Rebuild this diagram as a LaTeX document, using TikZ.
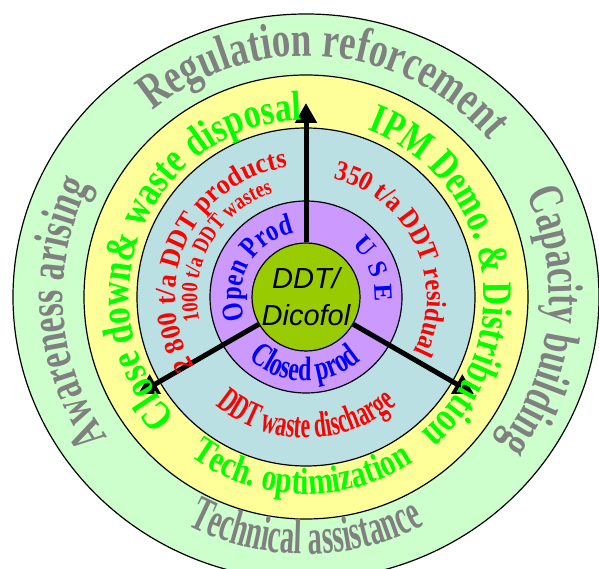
\documentclass[tikz,border=0pt]{standalone}
\usepackage{fontspec}
\setmainfont{Liberation Serif}
\setsansfont{Liberation Sans}
\usetikzlibrary{decorations.text,arrows.meta}
\definecolor{ringgreen}{HTML}{CCFFCC}
\definecolor{ringyellow}{HTML}{FFFF99}
\definecolor{ringblue}{HTML}{BBE0E3}
\definecolor{ringpurple}{HTML}{CC99FF}
\definecolor{coregreen}{HTML}{99CC00}
\definecolor{txtgray}{HTML}{808080}
\definecolor{txtgreen}{HTML}{00FF00}
\definecolor{txtred}{HTML}{FF0000}
\definecolor{txtblue}{HTML}{0000FF}
\newcommand\wa[2]{\fontspec{Liberation Serif}[FakeStretch=#1]\fontsize{#2}{#2}\selectfont\bfseries}
\newcommand\ringtext[6]{\path[decorate,decoration={text along path,text align=center,
    text={|\wa#5\color{#4}|#6}}] (#2:#1) arc[start angle=#2,end angle=#3,radius=#1];}

\begin{document}
\begin{tikzpicture}[ring/.style={draw=black, line width=1.2pt},
     flow/.style={line width=5pt, -{Triangle[length=20pt,width=21pt]}}]
   \useasboundingbox (-306pt,-272pt) rectangle (293pt,297pt);

   \draw[ring, fill=ringgreen] (0,0) ellipse[x radius=293pt, y radius=283pt];
   \draw[ring, fill=ringyellow] (0,0) circle[radius=222pt];
   \draw[ring, fill=ringblue] (0,0) circle[radius=169pt];
   \draw[ring, fill=ringpurple] (0,0) circle[radius=96pt];
   \node[ring, circle, fill=coregreen, minimum size=108pt, inner sep=0pt, align=center,
     font=\sffamily\itshape\fontsize{29}{37}\selectfont] (core) at (0,0) {DDT/\\Dicofol};

   \coordinate (up) at (90:194pt);
   \coordinate (left) at (210:194pt);
   \coordinate (right) at (330:194pt);
   \draw[flow] (core.90) -- (up);
   \draw[flow] (core.210) -- (left);
   \draw[flow] (core.330) -- (right);

   \ringtext{241pt}{165}{5}{txtgray}{{0.74}{50}}{Regulation reforcement}
   \ringtext{243pt}{254}{114}{txtgray}{{0.68}{50}}{Awareness arising}
   \ringtext{243pt}{64}{-76}{txtgray}{{0.69}{50}}{Capacity building}
   \ringtext{257pt}{200}{340}{txtgray}{{0.57}{50}}{Technical assistance}

   \ringtext{177pt}{250}{64}{txtgreen}{{0.8}{42}}{Close down{\&} waste disposal}
   \ringtext{178pt}{100}{-80}{txtgreen}{{0.77}{42}}{IPM Demo. {\&} Distribution}
   \ringtext{197pt}{200}{337}{txtgreen}{{0.78}{38}}{Tech. optimization}

   \ringtext{131pt}{230}{80}{txtred}{{0.93}{28}}{2 800 t/a DDT products}
   \ringtext{109pt}{220}{80}{txtred}{{0.8}{23}}{1000 t/a DDT wastes}
   \ringtext{121pt}{100}{-50}{txtred}{{0.88}{28}}{350 t/a DDT residual}
   \ringtext{141pt}{215}{325}{txtred}{{0.6}{36}}{DDT waste discharge}

   \ringtext{65pt}{240}{60}{txtblue}{{0.8}{30}}{Open Prod}
   \ringtext{69pt}{100}{-56}{txtblue}{{1}{26}}{U S E}
   \ringtext{84pt}{190}{348}{txtblue}{{0.7}{34}}{Closed prod}
\end{tikzpicture}
\end{document}
